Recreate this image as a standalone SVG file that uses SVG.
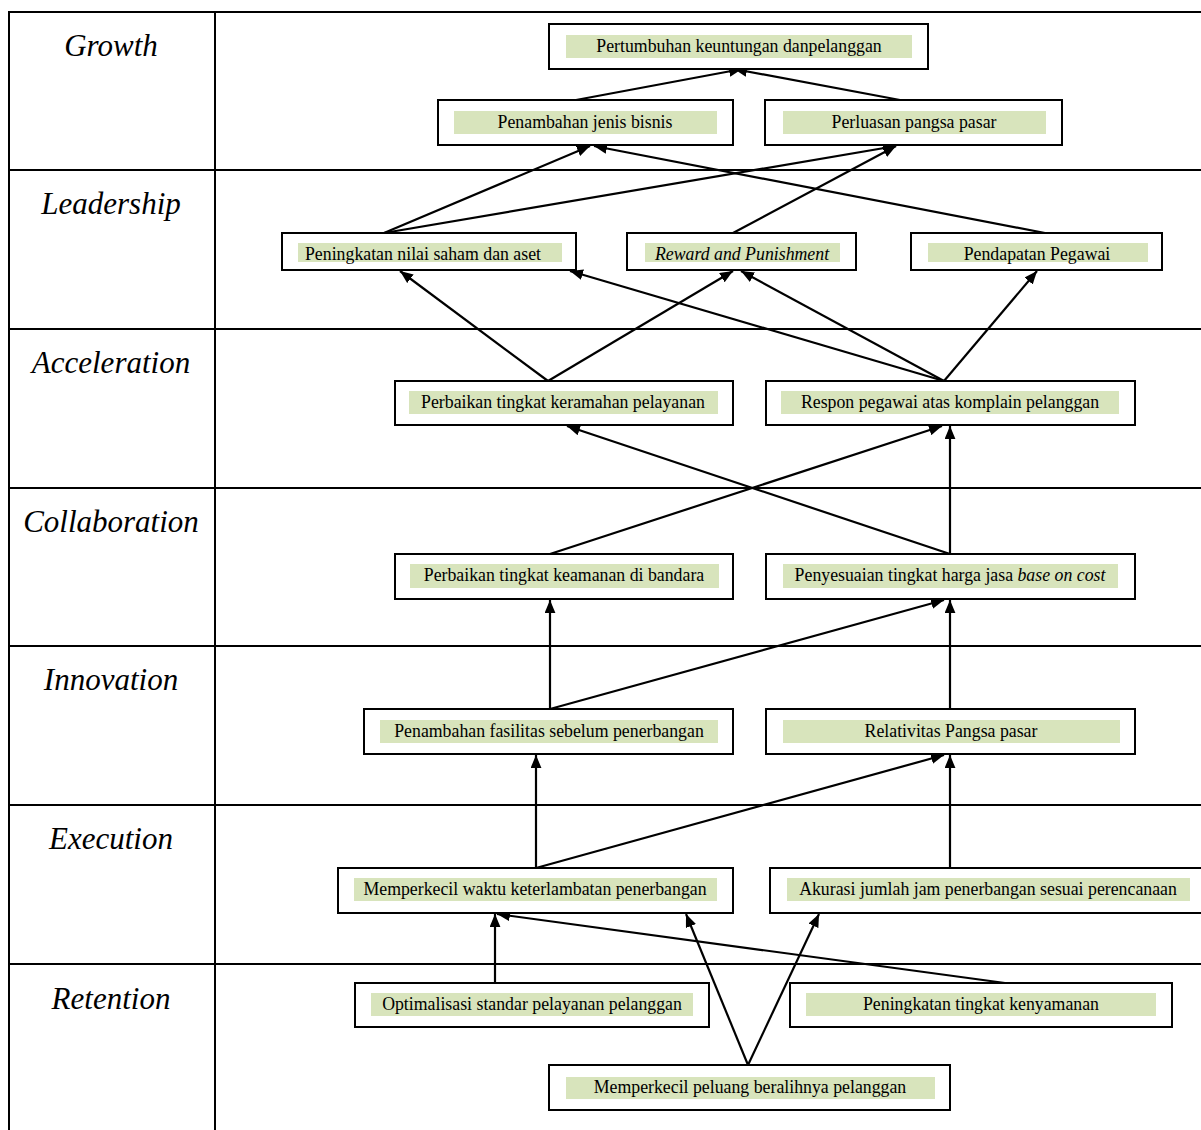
<svg xmlns="http://www.w3.org/2000/svg" width="1201" height="1130" viewBox="0 0 1201 1130">
<defs>
<style>
.grid{stroke:#000;stroke-width:2;fill:none}
.lbl{font-family:"Liberation Serif",serif;font-style:italic;font-size:31px;fill:#000;text-anchor:middle}
.box{fill:#fff;stroke:#000;stroke-width:2}
.hl{fill:#d8e4bc}
.t{font-family:"Liberation Serif",serif;font-size:17.8px;fill:#000;text-anchor:middle}
.c{stroke:#000;stroke-width:2.2;fill:none;marker-end:url(#ah)}
</style>
<marker id="ah" viewBox="0 0 12 10" refX="12" refY="5" markerWidth="13" markerHeight="11" markerUnits="userSpaceOnUse" orient="auto">
<path d="M0,0 L12,5 L0,10 z" fill="#000"/>
</marker>
</defs>
<rect width="1201" height="1130" fill="#fff"/>
<g id="table">
<line class="grid" x1="9" y1="12" x2="1201" y2="12"/>
<line class="grid" x1="9" y1="11" x2="9" y2="1130"/>
<line class="grid" x1="215" y1="11" x2="215" y2="1130"/>
<line class="grid" x1="9" y1="170" x2="1201" y2="170"/>
<line class="grid" x1="9" y1="329" x2="1201" y2="329"/>
<line class="grid" x1="9" y1="488" x2="1201" y2="488"/>
<line class="grid" x1="9" y1="646" x2="1201" y2="646"/>
<line class="grid" x1="9" y1="805" x2="1201" y2="805"/>
<line class="grid" x1="9" y1="964" x2="1201" y2="964"/>
<text class="lbl" x="111" y="56">Growth</text>
<text class="lbl" x="111" y="214">Leadership</text>
<text class="lbl" x="111" y="373">Acceleration</text>
<text class="lbl" x="111" y="532">Collaboration</text>
<text class="lbl" x="111" y="690">Innovation</text>
<text class="lbl" x="111" y="849">Execution</text>
<text class="lbl" x="111" y="1009">Retention</text>
</g>
<g id="connectors">
<line class="c" x1="576" y1="100" x2="742" y2="69"/>
<line class="c" x1="900" y1="100" x2="734" y2="69"/>
<line class="c" x1="384" y1="233" x2="590" y2="146"/>
<line class="c" x1="384" y1="233" x2="896" y2="146"/>
<line class="c" x1="733" y1="233" x2="896" y2="146"/>
<line class="c" x1="1045" y1="233" x2="594" y2="146"/>
<line class="c" x1="548" y1="381" x2="400" y2="271"/>
<line class="c" x1="548" y1="381" x2="733" y2="271"/>
<line class="c" x1="944" y1="381" x2="570" y2="271"/>
<line class="c" x1="944" y1="381" x2="741" y2="271"/>
<line class="c" x1="944" y1="381" x2="1037" y2="271"/>
<line class="c" x1="550" y1="554" x2="942" y2="426"/>
<line class="c" x1="950" y1="554" x2="567" y2="426"/>
<line class="c" x1="950" y1="554" x2="950" y2="426"/>
<line class="c" x1="550" y1="709" x2="550" y2="600"/>
<line class="c" x1="550" y1="709" x2="944" y2="600"/>
<line class="c" x1="950" y1="709" x2="950" y2="600"/>
<line class="c" x1="536" y1="868" x2="536" y2="755"/>
<line class="c" x1="536" y1="868" x2="944" y2="755"/>
<line class="c" x1="950" y1="868" x2="950" y2="755"/>
<line class="c" x1="495" y1="983" x2="495" y2="914"/>
<line class="c" x1="1005" y1="983" x2="497" y2="914"/>
<line class="c" x1="748" y1="1065" x2="686" y2="914"/>
<line class="c" x1="748" y1="1065" x2="819" y2="914"/>
</g>
<g id="n1"><rect class="box" x="549" y="24" width="379" height="45"/><rect class="hl" x="566" y="35" width="346" height="23"/><text class="t" x="739" y="52">Pertumbuhan keuntungan danpelanggan</text></g>
<g id="n2"><rect class="box" x="438" y="100" width="295" height="45"/><rect class="hl" x="454" y="111" width="263" height="23"/><text class="t" x="585" y="128">Penambahan jenis bisnis</text></g>
<g id="n3"><rect class="box" x="765" y="100" width="297" height="45"/><rect class="hl" x="783" y="111" width="263" height="23"/><text class="t" x="914" y="128">Perluasan pangsa pasar</text></g>
<g id="n4"><rect class="box" x="282" y="233" width="294" height="37"/><rect class="hl" x="298" y="243" width="264" height="19"/><text class="t" x="423" y="260">Peningkatan nilai saham dan aset</text></g>
<g id="n5"><rect class="box" x="627" y="233" width="229" height="37"/><rect class="hl" x="645" y="243" width="195" height="19"/><text class="t" x="742" y="260" font-style="italic">Reward and Punishment</text></g>
<g id="n6"><rect class="box" x="911" y="233" width="251" height="37"/><rect class="hl" x="928" y="243" width="220" height="19"/><text class="t" x="1037" y="260">Pendapatan Pegawai</text></g>
<g id="n7"><rect class="box" x="395" y="381" width="338" height="44"/><rect class="hl" x="409" y="391" width="309" height="23"/><text class="t" x="563" y="408">Perbaikan tingkat keramahan pelayanan</text></g>
<g id="n8"><rect class="box" x="766" y="381" width="369" height="44"/><rect class="hl" x="781" y="391" width="338" height="23"/><text class="t" x="950" y="408">Respon pegawai atas komplain pelanggan</text></g>
<g id="n9"><rect class="box" x="395" y="554" width="338" height="45"/><rect class="hl" x="410" y="564" width="309" height="24"/><text class="t" x="564" y="581">Perbaikan tingkat keamanan di bandara</text></g>
<g id="n10"><rect class="box" x="766" y="554" width="369" height="45"/><rect class="hl" x="783" y="564" width="335" height="24"/><text class="t" x="950" y="581">Penyesuaian  tingkat harga jasa <tspan font-style="italic">base on cost</tspan></text></g>
<g id="n11"><rect class="box" x="364" y="709" width="369" height="45"/><rect class="hl" x="380" y="720" width="338" height="23"/><text class="t" x="549" y="737">Penambahan fasilitas sebelum penerbangan</text></g>
<g id="n12"><rect class="box" x="766" y="709" width="369" height="45"/><rect class="hl" x="783" y="720" width="337" height="23"/><text class="t" x="951" y="737">Relativitas Pangsa pasar</text></g>
<g id="n13"><rect class="box" x="338" y="868" width="395" height="45"/><rect class="hl" x="354" y="878" width="363" height="23"/><text class="t" x="535" y="895">Memperkecil waktu keterlambatan penerbangan</text></g>
<g id="n14"><rect class="box" x="770" y="868" width="440" height="45"/><rect class="hl" x="787" y="878" width="403" height="23"/><text class="t" x="988" y="895">Akurasi jumlah jam penerbangan sesuai perencanaan</text></g>
<g id="n15"><rect class="box" x="355" y="983" width="354" height="44"/><rect class="hl" x="371" y="993" width="322" height="23"/><text class="t" x="532" y="1010">Optimalisasi standar pelayanan pelanggan</text></g>
<g id="n16"><rect class="box" x="790" y="983" width="382" height="44"/><rect class="hl" x="806" y="993" width="350" height="23"/><text class="t" x="981" y="1010">Peningkatan tingkat kenyamanan</text></g>
<g id="n17"><rect class="box" x="549" y="1065" width="401" height="45"/><rect class="hl" x="566" y="1077" width="369" height="22"/><text class="t" x="750" y="1093">Memperkecil peluang beralihnya pelanggan</text></g>
</svg>
